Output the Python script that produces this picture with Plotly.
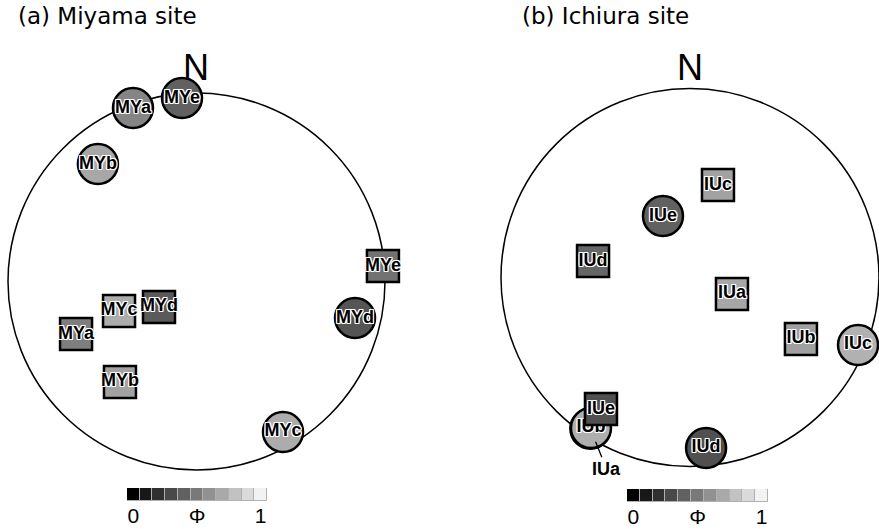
import plotly.graph_objects as go

# ---------------- data ----------------
# positions in units of the site-circle radius (centre = 0,0, north = +y)
my_circle_names = ["MYa", "MYb", "MYc", "MYd", "MYe"]
my_circle_x = [-0.337, -0.523, 0.459, 0.841, -0.077]
my_circle_y = [0.920, 0.623, -0.798, -0.194, 0.973]
my_circle_phi = [0.55, 0.69, 0.71, 0.35, 0.40]

my_square_names = ["MYa", "MYb", "MYc", "MYd", "MYe"]
my_square_x = [-0.639, -0.406, -0.411, -0.199, 0.989]
my_square_y = [-0.279, -0.533, -0.156, -0.135, 0.082]
my_square_phi = [0.52, 0.67, 0.71, 0.37, 0.47]

iu_circle_names = ["IUa", "IUb", "IUc", "IUd", "IUe"]
iu_circle_x = [-0.527, -0.524, 0.889, 0.085, -0.143]
iu_circle_y = [-0.800, -0.796, -0.357, -0.902, 0.325]
iu_circle_phi = [0.60, 0.72, 0.73, 0.33, 0.40]
iu_leader_site = "IUa"   # hidden under IUb, labelled with a leader line

iu_square_names = ["IUa", "IUb", "IUc", "IUd", "IUe"]
iu_square_x = [0.222, 0.587, 0.148, -0.513, -0.471]
iu_square_y = [-0.087, -0.325, 0.489, 0.087, -0.696]
iu_square_phi = [0.69, 0.66, 0.67, 0.42, 0.33]

scale_levels = [0.0, 0.1, 0.2, 0.3, 0.4, 0.5, 0.6, 0.7, 0.8, 0.9, 1.0]
scale_ticks = [0, 5, 10]
scale_ticktext = ["0", "Φ", "1"]

titles = ["(a) Miyama site", "(b) Ichiura site"]

# ---------------- styling ----------------
W, H = 879, 529
GRAY = [[0, "rgb(0,0,0)"], [1, "rgb(242,242,242)"]]
LBL_FONT = "Liberation Sans, Arial, sans-serif"
HALO = ("1px 1px 0 white, -1px -1px 0 white, 1px -1px 0 white, -1px 1px 0 white, "
        "0 1px 0 white, 1px 0 0 white, 0 -1px 0 white, -1px 0 0 white")


def marker_trace(xs, ys, names, phi, symbol, size, xa, ya):
    return go.Scatter(
        x=xs, y=ys, text=names, mode="markers+text", textposition="middle center",
        xaxis=xa, yaxis=ya, showlegend=False, hoverinfo="text",
        cliponaxis=False,
        marker=dict(symbol=symbol, size=size, color=phi, colorscale=GRAY,
                    cmin=0, cmax=1, line=dict(color="black", width=2.5)),
        textfont=dict(family=LBL_FONT, size=18, color="black", weight="bold",
                      shadow=HALO),
    )


iu_circle_text = ["" if n == iu_leader_site else n for n in iu_circle_names]

fig = go.Figure()
fig.add_trace(marker_trace(my_circle_x, my_circle_y, my_circle_names, my_circle_phi,
                           "circle", 40, "x", "y"))
fig.add_trace(marker_trace(my_square_x, my_square_y, my_square_names, my_square_phi,
                           "square", 32, "x", "y"))
fig.add_trace(marker_trace(iu_circle_x, iu_circle_y, iu_circle_text, iu_circle_phi,
                           "circle", 40, "x2", "y2"))
fig.add_trace(marker_trace(iu_square_x, iu_square_y, iu_square_names, iu_square_phi,
                           "square", 32, "x2", "y2"))

for xa, ya in (("x3", "y3"), ("x4", "y4")):
    fig.add_trace(go.Bar(
        x=list(range(len(scale_levels))), y=[1] * len(scale_levels), width=1,
        xaxis=xa, yaxis=ya, showlegend=False, hoverinfo="skip",
        marker=dict(color=scale_levels, colorscale=GRAY, cmin=0, cmax=1,
                    line=dict(color="#b0b0b0", width=1)),
    ))

# site circles (unit radius)
for xr, yr in (("x", "y"), ("x2", "y2")):
    fig.add_shape(type="circle", xref=xr, yref=yr, x0=-1, x1=1, y0=-1, y1=1,
                  line=dict(color="black", width=1.5), layer="below")


def rng(p0, p1, c, r):
    return [(p0 - c) / r, (p1 - c) / r]


ax_hidden = dict(visible=False, showgrid=False, zeroline=False, fixedrange=True)
tick_font = dict(family="Liberation Sans, Arial", size=21, color="black")
fig.update_layout(
    width=W, height=H, autosize=False,
    margin=dict(l=0, r=0, t=0, b=0),
    paper_bgcolor="white", plot_bgcolor="rgba(0,0,0,0)",
    bargap=0,
    xaxis=dict(ax_hidden, domain=[0, 0.5], range=rng(0, 439.5, 196.5, 188.5)),
    yaxis=dict(ax_hidden, domain=[0, 1], range=[(281.5 - 529) / 188.5, 281.5 / 188.5]),
    xaxis2=dict(ax_hidden, domain=[0.5, 1], range=rng(439.5, 879, 690, 189)),
    yaxis2=dict(ax_hidden, domain=[0, 1], range=[(277.5 - 529) / 189, 277.5 / 189]),
    xaxis3=dict(domain=[127 / W, 267 / W], range=[-0.5, 10.5], showgrid=False,
                zeroline=False, showline=False, ticks="", tickvals=scale_ticks,
                ticktext=scale_ticktext, anchor="y3", tickfont=tick_font, fixedrange=True),
    yaxis3=dict(ax_hidden, domain=[(H - 501) / H, (H - 488) / H], range=[0, 1], anchor="x3"),
    xaxis4=dict(domain=[627 / W, 768 / W], range=[-0.5, 10.5], showgrid=False,
                zeroline=False, showline=False, ticks="", tickvals=scale_ticks,
                ticktext=scale_ticktext, anchor="y4", tickfont=tick_font, fixedrange=True),
    yaxis4=dict(ax_hidden, domain=[(H - 502) / H, (H - 489) / H], range=[0, 1], anchor="x4"),
)

# titles
for txt, xpx in zip(titles, (16, 520)):
    fig.add_annotation(text=txt, xref="paper", yref="paper", x=xpx / W, y=1 - 16 / H,
                       xanchor="left", yanchor="middle", showarrow=False,
                       font=dict(family="DejaVu Sans", size=23, color="black"))

# north labels
for xr, yr, nx, ny in (("x", "y", -0.005, 1.135), ("x2", "y2", 0.0, 1.11)):
    fig.add_annotation(text="N", xref=xr, yref=yr, x=nx, y=ny,
                       showarrow=False, yanchor="middle",
                       font=dict(family="Liberation Sans, Arial", size=36, color="black"))

# hidden IUa circle leader label
k = iu_circle_names.index(iu_leader_site)
fig.add_annotation(text="<b>" + iu_leader_site + "</b>", xref="x2", yref="y2",
                   x=iu_circle_x[k], y=iu_circle_y[k], ax=16, ay=40,
                   showarrow=True, arrowhead=0, arrowwidth=1.3, arrowcolor="black",
                   standoff=14,
                   font=dict(family=LBL_FONT, size=18, color="black"))

fig.write_html("out.html", config={"displayModeBar": False},
               post_script="document.body.style.margin='0';document.body.style.overflow='hidden';")
